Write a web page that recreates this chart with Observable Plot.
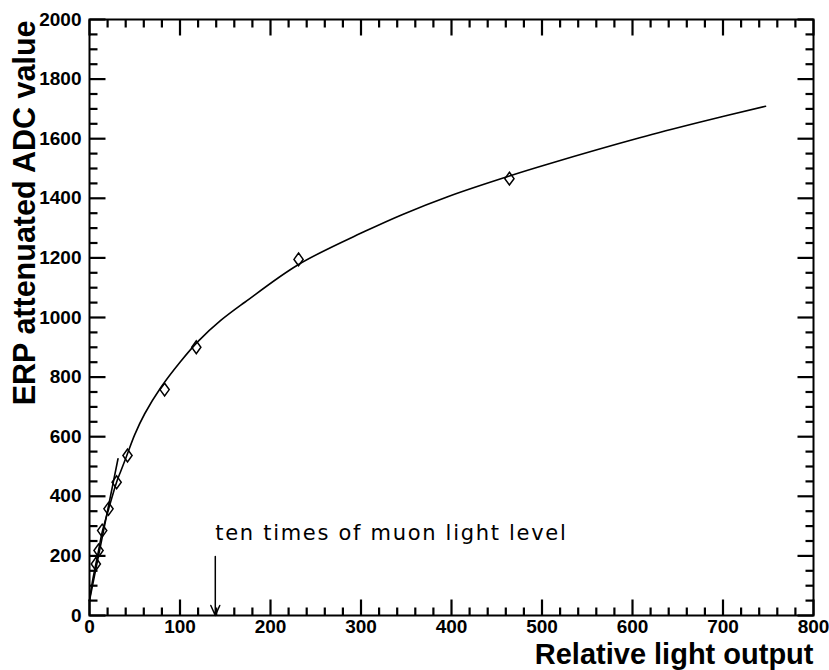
<!DOCTYPE html>
<html>
<head>
<meta charset="utf-8">
<script src="https://cdn.jsdelivr.net/npm/d3@7"></script>
<script src="https://cdn.jsdelivr.net/npm/@observablehq/plot@0.6"></script>
<style>
  body { margin: 0; background: #fff; }
  #chart svg { display: block; }
</style>
</head>
<body>
<div id="chart"></div>
<script>
// Measured points: relative light output vs. attenuated ERP ADC value
const lightOutput = [7, 10, 14, 21, 30, 42, 83, 118, 231, 464];
const adcValue    = [173, 218, 285, 358, 447, 537, 758, 900, 1195, 1466];

// Fitted response curve over the full range
const fitX = [0, 3, 7, 10, 14, 21, 30, 34, 41, 50, 61, 79, 100, 120, 145, 172, 231, 305, 346, 398, 464, 508, 608, 674, 747];
const fitY = [50, 110, 172, 218, 280, 356, 448, 480, 535, 607, 677, 766, 850, 920, 990, 1052, 1178, 1290, 1346, 1408, 1475, 1516, 1603, 1655, 1709];

// Linear fit to the low-light points
const linX = [0, 31.5];
const linY = [50, 526];

// Axis tick labels
const xTicks = [0, 100, 200, 300, 400, 500, 600, 700, 800];
const yTicks = [0, 200, 400, 600, 800, 1000, 1200, 1400, 1600, 1800, 2000];

// Annotation
const noteText = "ten times of muon light level";
const noteX = 139;
const noteY = 275;
const arrowTop = 198;

const points = lightOutput.map((x, i) => ({x, y: adcValue[i]}));
const fit = fitX.map((x, i) => ({x, y: fitY[i]}));
const lin = linX.map((x, i) => ({x, y: linY[i]}));

// Layout
const W = 829, H = 670;
const M = {left: 89, right: 16, top: 19, bottom: 55};
const X_MAX = 800, Y_MAX = 2000;
// data units per pixel, so tick lengths can be given in pixels
const xPerPx = X_MAX / (W - M.left - M.right);
const yPerPx = Y_MAX / (H - M.top - M.bottom);

// Tick segments for all four sides of the frame, pointing inward
const xTickPos = d3.range(0, X_MAX + 1, 20);
const yTickPos = d3.range(0, Y_MAX + 1, 50);
const tickLen = (v, major) => (v % major === 0 ? 16 : 8);
const tickSegments = [
  ...xTickPos.map(v => ({x1: v, x2: v, y1: 0, y2: tickLen(v, 100) * yPerPx})),
  ...xTickPos.map(v => ({x1: v, x2: v, y1: Y_MAX, y2: Y_MAX - tickLen(v, 100) * yPerPx})),
  ...yTickPos.map(v => ({y1: v, y2: v, x1: 0, x2: tickLen(v, 200) * xPerPx})),
  ...yTickPos.map(v => ({y1: v, y2: v, x1: X_MAX, x2: X_MAX - tickLen(v, 200) * xPerPx}))
];

// Open rhombus marker, a bit taller than wide
const rhombus = {
  draw(ctx, size) {
    const r = Math.sqrt(size / Math.PI);
    const w = r * 1.15, h = r * 1.6;
    ctx.moveTo(0, -h);
    ctx.lineTo(w, 0);
    ctx.lineTo(0, h);
    ctx.lineTo(-w, 0);
    ctx.closePath();
  }
};

const labelFont = {fontFamily: "Liberation Sans, Arial, sans-serif", fontWeight: "bold"};

const chart = Plot.plot({
  width: W,
  height: H,
  marginLeft: M.left,
  marginRight: M.right,
  marginTop: M.top,
  marginBottom: M.bottom,
  style: {background: "#fff", color: "#000", fontFamily: "Liberation Sans, Arial, sans-serif"},
  x: {domain: [0, X_MAX]},
  y: {domain: [0, Y_MAX]},
  marks: [
    Plot.frame({strokeWidth: 2, fill: "none", stroke: "#000"}),
    // tick labels
    Plot.axisX(xTicks, {anchor: "bottom", tickSize: 0, tickPadding: 4, tickFormat: d => String(d), fontSize: 19, ...labelFont, label: null}),
    Plot.axisY(yTicks, {anchor: "left", tickSize: 0, tickPadding: 8, tickFormat: d => String(d), fontSize: 19, ...labelFont, label: null}),
    // fits and data
    Plot.line(fit, {x: "x", y: "y", curve: "catmull-rom", strokeWidth: 1.6}),
    Plot.line(lin, {x: "x", y: "y", strokeWidth: 1.6}),
    Plot.dot(points, {x: "x", y: "y", symbol: rhombus, r: 4, stroke: "#000", fill: "none", strokeWidth: 1.5}),
    // annotation
    Plot.arrow([{x: noteX, y1: arrowTop, y2: 0}], {x1: "x", x2: "x", y1: "y1", y2: "y2", headLength: 11, headAngle: 48, strokeWidth: 1.5}),
    Plot.text([noteText], {x: noteX, y: noteY, text: d => d, textAnchor: "start", lineAnchor: "middle", fontSize: 21, fontFamily: "DejaVu Sans, sans-serif"}),
    // axis titles
    Plot.text(["Relative light output"], {frameAnchor: "bottom-right", text: d => d, textAnchor: "end", lineAnchor: "middle", dy: 39, fontSize: 29, ...labelFont}),
    Plot.text(["ERP attenuated ADC value"], {frameAnchor: "top-left", text: d => d, textAnchor: "end", lineAnchor: "middle", rotate: -90, dx: -64, dy: 1, fontSize: 30.5, ...labelFont}),
    // inward frame ticks, drawn last
    Plot.link(tickSegments, {x1: "x1", y1: "y1", x2: "x2", y2: "y2", stroke: "#000", strokeWidth: 2.2})
  ]
});

// widen the annotation's letter spacing
d3.select(chart).selectAll("text")
  .filter(function () { return this.textContent === noteText; })
  .attr("letter-spacing", "1.7px");

document.getElementById("chart").appendChild(chart);
</script>
</body>
</html>
